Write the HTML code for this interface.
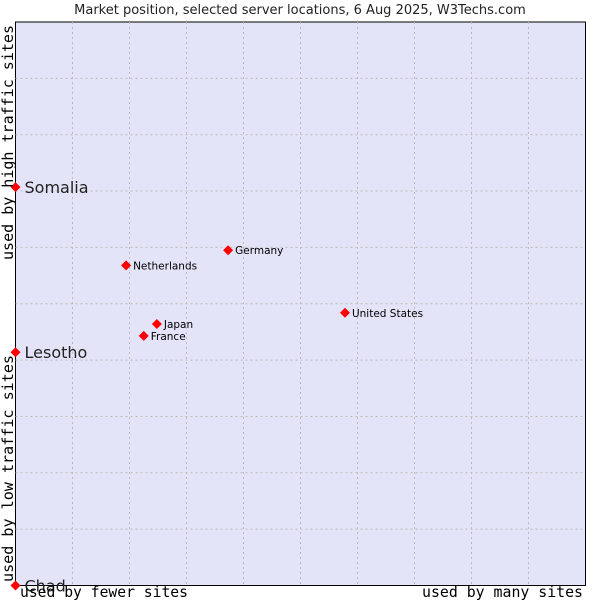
<!DOCTYPE html>
<html><head><meta charset="utf-8"><style>
body{margin:0;background:#fff}
svg{display:block}
</style></head><body>
<svg id="chart" width="600" height="600" xmlns="http://www.w3.org/2000/svg">
<text x="300" y="14" text-anchor="middle" font-family="DejaVu Sans, sans-serif" font-size="13" fill="#222">Market position, selected server locations, 6 Aug 2025, W3Techs.com</text>
<rect x="15.5" y="22" width="570" height="563.5" fill="#e3e4f8" stroke="#000" stroke-width="1"/>
<g id="grid"></g>
<g id="pts"></g>
<text x="20" y="597" textLength="168" lengthAdjust="spacingAndGlyphs" font-family="DejaVu Sans Mono, monospace" font-size="15" fill="#000">used by fewer sites</text>
<text x="422" y="597" textLength="161" lengthAdjust="spacingAndGlyphs" font-family="DejaVu Sans Mono, monospace" font-size="15" fill="#000">used by many sites</text>
<text transform="translate(13,260) rotate(-90)" textLength="235" lengthAdjust="spacingAndGlyphs" font-family="DejaVu Sans Mono, monospace" font-size="15" fill="#000">used by high traffic sites</text>
<text transform="translate(13,582) rotate(-90)" textLength="227" lengthAdjust="spacingAndGlyphs" font-family="DejaVu Sans Mono, monospace" font-size="15" fill="#000">used by low traffic sites</text>
</svg>
<script>
const names=["Somalia","Lesotho","Chad","Netherlands","Germany","United States","Japan","France"];
const xVals=[0,0,0,19.4,37.3,57.8,24.8,22.5];
const yVals=[70.7,41.4,0,56.8,59.5,48.4,46.4,44.3];
const bigLabel=[true,true,true,false,false,false,false,false];
const L=15.5,R=585.5,T=22,B=585.5;
const sx=v=>L+v/100*(R-L);
const sy=v=>B-v/100*(B-T);
const NS="http://www.w3.org/2000/svg";
const g=document.getElementById('grid');
for(let i=1;i<10;i++){
 const a=document.createElementNS(NS,'line');
 a.setAttribute('x1',sx(i*10));a.setAttribute('x2',sx(i*10));a.setAttribute('y1',T);a.setAttribute('y2',B);
 a.setAttribute('stroke','#bbb');a.setAttribute('stroke-dasharray','2,3');
 
 
 g.appendChild(a);
 const b=document.createElementNS(NS,'line');
 b.setAttribute('y1',sy(i*10));b.setAttribute('y2',sy(i*10));b.setAttribute('x1',L);b.setAttribute('x2',R);
 b.setAttribute('stroke','#bbb');b.setAttribute('stroke-dasharray','2,3');
 
 
 g.appendChild(b);
}
const p=document.getElementById('pts');
names.forEach((n,i)=>{
 const x=sx(xVals[i]),y=sy(yVals[i]);
 const d=document.createElementNS(NS,'path');
 d.setAttribute('d',`M${x},${y-5}L${x+5},${y}L${x},${y+5}L${x-5},${y}Z`);
 d.setAttribute('fill','#f00');
 
 
 p.appendChild(d);
 const t=document.createElementNS(NS,'text');
 t.setAttribute('x',x+(bigLabel[i]?9:7));
 t.setAttribute('y',y+(bigLabel[i]?6:4));
 t.setAttribute('font-family','DejaVu Sans, sans-serif');
 t.setAttribute('font-size',bigLabel[i]?'16':'10.5');
 t.setAttribute('fill',bigLabel[i]?'#222':'#000');
 t.textContent=n;
 
 
 p.appendChild(t);
});
</script>
</body></html>
